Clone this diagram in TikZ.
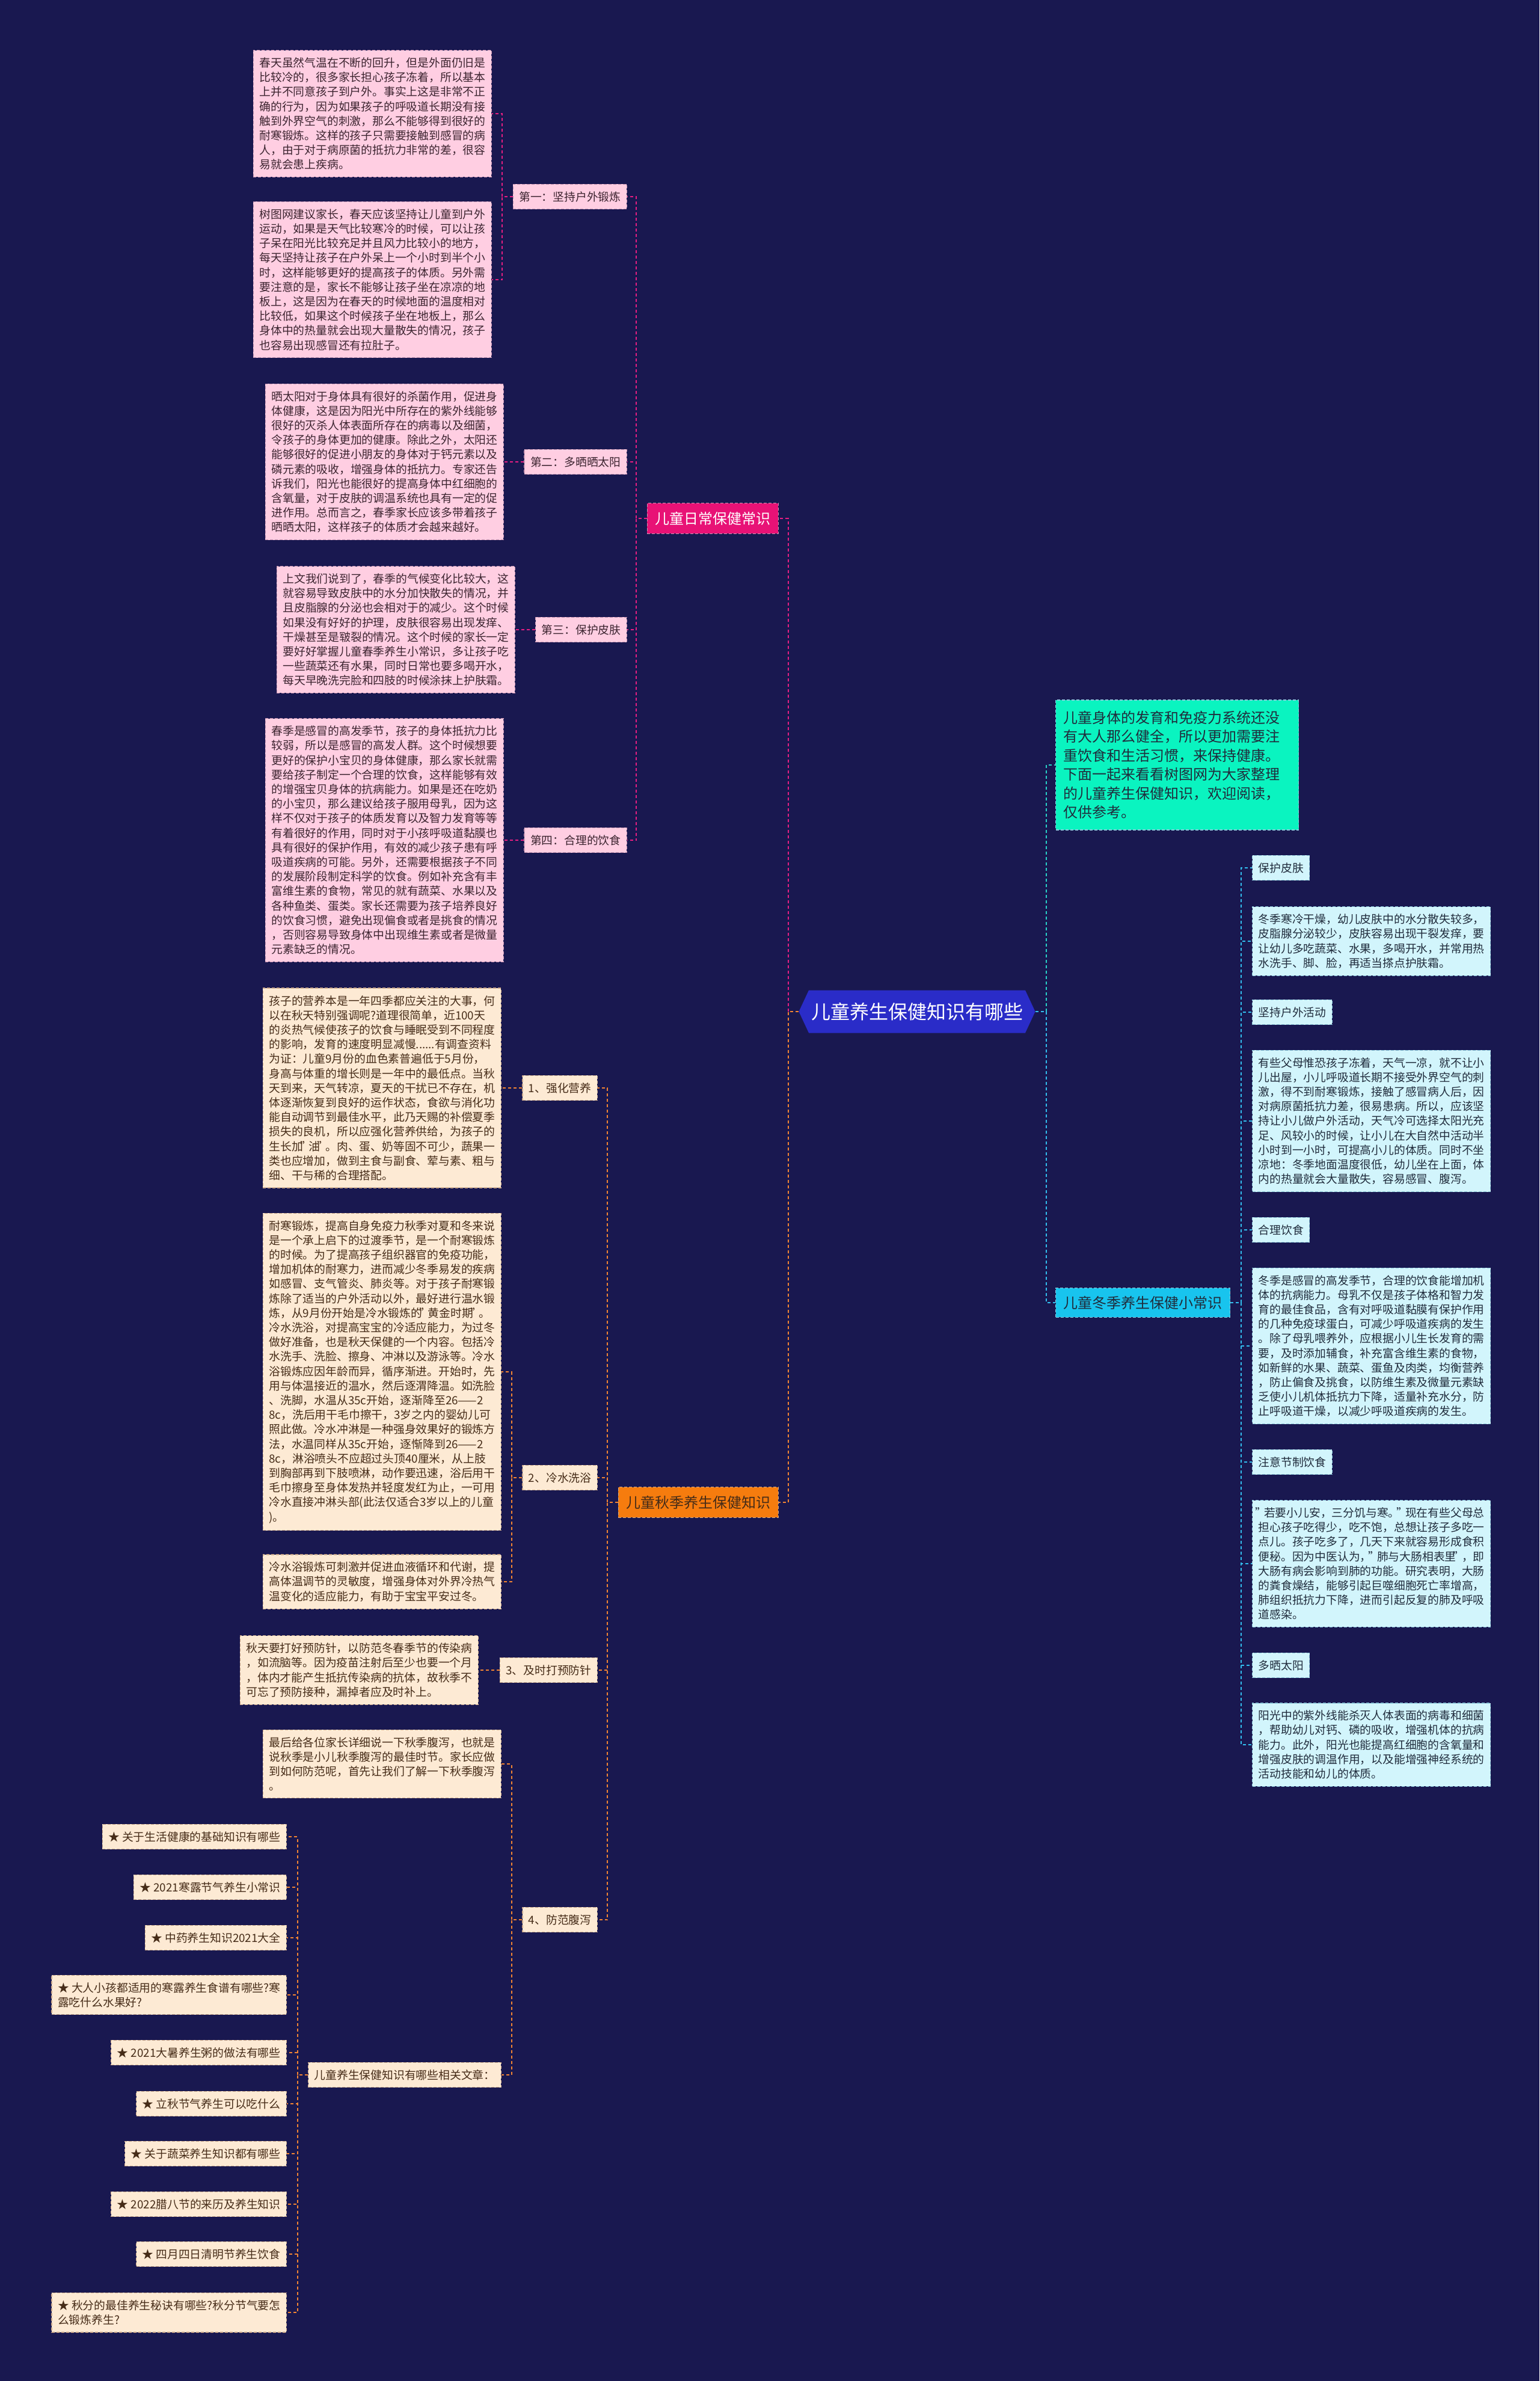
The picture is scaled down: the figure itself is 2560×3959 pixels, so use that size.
\documentclass[tikz,border=0pt]{standalone}
\usepackage{fontspec}
\setmainfont{Noto Sans CJK SC}[Ligatures=ResetAll]
\usepackage{tikz}
\usetikzlibrary{shapes.symbols}
\definecolor{bgnavy}    {RGB}{25,  24,  80}
\definecolor{rootblue}  {RGB}{42,  44, 200}
\definecolor{pinkmain}  {RGB}{232, 18, 118}
\definecolor{pinkfill}  {RGB}{255, 206, 226}
\definecolor{pinkedge}  {RGB}{200, 150, 180}
\definecolor{pinkink}   {RGB}{60,  36,  48}
\definecolor{orangemain}{RGB}{246, 124,  14}
\definecolor{peachfill} {RGB}{253, 234, 212}
\definecolor{peachedge} {RGB}{205, 170, 140}
\definecolor{peachink}  {RGB}{70,  44,  24}
\definecolor{cyanmain}  {RGB}{24, 196, 238}
\definecolor{cyanfill}  {RGB}{210, 245, 252}
\definecolor{cyanedge}  {RGB}{140, 200, 220}
\definecolor{cyanink}   {RGB}{32,  44,  60}
\definecolor{introgreen}{RGB}{10, 244, 192}
\definecolor{pinkwire}  {RGB}{230, 30, 130}
\definecolor{orangewire}{RGB}{242, 132,  50}
\definecolor{cyanwire}  {RGB}{50, 190, 238}
\definecolor{tealwire}  {RGB}{40, 210, 200}

% a straight double quote, half a character wide
\newcommand{\dq}{\makebox[0.5em][c]{"}}

\tikzset{
  boxbase/.style={align=left, inner xsep=10pt, inner ysep=12pt,
    font=\fontsize{18.8}{24.2}\selectfont, line width=1.2pt,
    dash pattern=on 5pt off 3pt},
  pinkleaf/.style={boxbase, fill=pinkfill, draw=pinkedge, text=pinkink},
  peachleaf/.style={boxbase, fill=peachfill, draw=peachedge, text=peachink},
  cyanleaf/.style={boxbase, fill=cyanfill, draw=cyanedge, text=cyanink},
  branchbox/.style={inner xsep=13pt, inner ysep=14pt, line width=1.2pt,
    dash pattern=on 5pt off 3pt, font=\fontsize{24}{31.5}\selectfont},
  rootnode/.style={signal, signal to=west and east, signal pointer angle=130,
    fill=rootblue, text=white, font=\fontsize{32}{38}\selectfont,
    minimum width=388pt, minimum height=71pt, inner xsep=4pt},
  wire/.style={line width=2pt, dash pattern=on 5pt off 4pt},
  pinkline/.style={wire, pinkwire},
  orangeline/.style={wire, orangewire},
  cyanline/.style={wire, cyanwire},
  lbranch/.style={to path={-- ++(-17.5,0) |- (\tikztotarget)}},
  rbranch/.style={to path={-- ++(18,0) |- (\tikztotarget)}}
}

\begin{document}
\begin{tikzpicture}[x=1pt, y=-1pt]
  \fill[bgnavy] (0,0) rectangle (2560,3959);

  % centre
  \node[rootnode] (root) at (1525,1682) {儿童养生保健知识有哪些};

  % spring branch (left, pink)
  \node[branchbox, fill=pinkmain, draw=pinkedge, text=white, anchor=east]
       (daily) at (1295,862) {儿童日常保健常识};
  \node[pinkleaf, anchor=east] (outdoor) at (1043,327) {第一：坚持户外锻炼};
  \node[pinkleaf, anchor=east] (outdoora) at (818,189)
       {春天虽然气温在不断的回升，但是外面仍旧是\\
        比较冷的，很多家长担心孩子冻着，所以基本\\
        上并不同意孩子到户外。事实上这是非常不正\\
        确的行为，因为如果孩子的呼吸道长期没有接\\
        触到外界空气的刺激，那么不能够得到很好的\\
        耐寒锻炼。这样的孩子只需要接触到感冒的病\\
        人，由于对于病原菌的抵抗力非常的差，很容\\
        易就会患上疾病。};
  \node[pinkleaf, anchor=east] (outdoorb) at (818,465)
       {树图网建议家长，春天应该坚持让儿童到户外\\
        运动，如果是天气比较寒冷的时候，可以让孩\\
        子呆在阳光比较充足并且风力比较小的地方，\\
        每天坚持让孩子在户外呆上一个小时到半个小\\
        时，这样能够更好的提高孩子的体质。另外需\\
        要注意的是，家长不能够让孩子坐在凉凉的地\\
        板上，这是因为在春天的时候地面的温度相对\\
        比较低，如果这个时候孩子坐在地板上，那么\\
        身体中的热量就会出现大量散失的情况，孩子\\
        也容易出现感冒还有拉肚子。};
  \node[pinkleaf, anchor=east] (sun) at (1043,768) {第二：多晒晒太阳};
  \node[pinkleaf, anchor=east] (suna) at (838,768)
       {晒太阳对于身体具有很好的杀菌作用，促进身\\
        体健康，这是因为阳光中所存在的紫外线能够\\
        很好的灭杀人体表面所存在的病毒以及细菌，\\
        令孩子的身体更加的健康。除此之外，太阳还\\
        能够很好的促进小朋友的身体对于钙元素以及\\
        磷元素的吸收，增强身体的抵抗力。专家还告\\
        诉我们，阳光也能很好的提高身体中红细胞的\\
        含氧量，对于皮肤的调温系统也具有一定的促\\
        进作用。总而言之，春季家长应该多带着孩子\\
        晒晒太阳，这样孩子的体质才会越来越好。};
  \node[pinkleaf, anchor=east] (skin) at (1043,1047) {第三：保护皮肤};
  \node[pinkleaf, anchor=east] (skina) at (857,1047)
       {上文我们说到了，春季的气候变化比较大，这\\
        就容易导致皮肤中的水分加快散失的情况，并\\
        且皮脂腺的分泌也会相对于的减少。这个时候\\
        如果没有好好的护理，皮肤很容易出现发痒、\\
        干燥甚至是皲裂的情况。这个时候的家长一定\\
        要好好掌握儿童春季养生小常识，多让孩子吃\\
        一些蔬菜还有水果，同时日常也要多喝开水，\\
        每天早晚洗完脸和四肢的时候涂抹上护肤霜。};
  \node[pinkleaf, anchor=east] (diet) at (1043,1397) {第四：合理的饮食};
  \node[pinkleaf, anchor=east] (dieta) at (838,1397)
       {春季是感冒的高发季节，孩子的身体抵抗力比\\
        较弱，所以是感冒的高发人群。这个时候想要\\
        更好的保护小宝贝的身体健康，那么家长就需\\
        要给孩子制定一个合理的饮食，这样能够有效\\
        的增强宝贝身体的抗病能力。如果是还在吃奶\\
        的小宝贝，那么建议给孩子服用母乳，因为这\\
        样不仅对于孩子的体质发育以及智力发育等等\\
        有着很好的作用，同时对于小孩呼吸道黏膜也\\
        具有很好的保护作用，有效的减少孩子患有呼\\
        吸道疾病的可能。另外，还需要根据孩子不同\\
        的发展阶段制定科学的饮食。例如补充含有丰\\
        富维生素的食物，常见的就有蔬菜、水果以及\\
        各种鱼类、蛋类。家长还需要为孩子培养良好\\
        的饮食习惯，避免出现偏食或者是挑食的情况\\
        ，否则容易导致身体中出现维生素或者是微量\\
        元素缺乏的情况。};

  % autumn branch (left, orange)
  \node[branchbox, fill=orangemain, draw=peachedge, text=peachink, anchor=east]
       (autumn) at (1295,2498) {儿童秋季养生保健知识};
  \node[peachleaf, anchor=east] (nutri) at (994,1809) {1、强化营养};
  \node[peachleaf, anchor=east] (nutria) at (834,1809)
       {孩子的营养本是一年四季都应关注的大事，何\\
        以在秋天特别强调呢?道理很简单，近100天\\
        的炎热气候使孩子的饮食与睡眠受到不同程度\\
        的影响，发育的速度明显减慢......有调查资料\\
        为证：儿童9月份的血色素普遍低于5月份，\\
        身高与体重的增长则是一年中的最低点。当秋\\
        天到来，天气转凉，夏天的干扰已不存在，机\\
        体逐渐恢复到良好的运作状态，食欲与消化功\\
        能自动调节到最佳水平，此乃天赐的补偿夏季\\
        损失的良机，所以应强化营养供给，为孩子的\\
        生长加\dq 油\dq 。肉、蛋、奶等固不可少，蔬果一\\
        类也应增加，做到主食与副食、荤与素、粗与\\
        细、干与稀的合理搭配。};
  \node[peachleaf, anchor=east] (bath) at (994,2457) {2、冷水洗浴};
  \node[peachleaf, anchor=east] (batha) at (834,2281)
       {耐寒锻炼，提高自身免疫力秋季对夏和冬来说\\
        是一个承上启下的过渡季节，是一个耐寒锻炼\\
        的时候。为了提高孩子组织器官的免疫功能，\\
        增加机体的耐寒力，进而减少冬季易发的疾病\\
        如感冒、支气管炎、肺炎等。对于孩子耐寒锻\\
        炼除了适当的户外活动以外，最好进行温水锻\\
        炼，从9月份开始是冷水锻炼的\dq 黄金时期\dq 。\\
        冷水洗浴，对提高宝宝的冷适应能力，为过冬\\
        做好准备，也是秋天保健的一个内容。包括冷\\
        水洗手、洗脸、擦身、冲淋以及游泳等。冷水\\
        浴锻炼应因年龄而异，循序渐进。开始时，先\\
        用与体温接近的温水，然后逐渭降温。如洗脸\\
        、洗脚，水温从35c开始，逐渐降至26——2\\
        8c，洗后用干毛巾擦干，3岁之内的婴幼儿可\\
        照此做。冷水冲淋是一种强身效果好的锻炼方\\
        法，水温同样从35c开始，逐惭降到26——2\\
        8c，淋浴喷头不应超过头顶40厘米，从上肢\\
        到胸部再到下肢喷淋，动作要迅速，浴后用干\\
        毛巾擦身至身体发热并轻度发红为止，一可用\\
        冷水直接冲淋头部(此法仅适合3岁以上的儿童\\
        )。};
  \node[peachleaf, anchor=east] (bathb) at (834,2630)
       {冷水浴锻炼可刺激并促进血液循环和代谢，提\\
        高体温调节的灵敏度，增强身体对外界冷热气\\
        温变化的适应能力，有助于宝宝平安过冬。};
  \node[peachleaf, anchor=east] (shot) at (994,2777) {3、及时打预防针};
  \node[peachleaf, anchor=east] (shota) at (796,2777)
       {秋天要打好预防针，以防范冬春季节的传染病\\
        ，如流脑等。因为疫苗注射后至少也要一个月\\
        ，体内才能产生抵抗传染病的抗体，故秋季不\\
        可忘了预防接种，漏掉者应及时补上。};
  \node[peachleaf, anchor=east] (gut) at (994,3192) {4、防范腹泻};
  \node[peachleaf, anchor=east] (guta) at (834,2933)
       {最后给各位家长详细说一下秋季腹泻，也就是\\
        说秋季是小儿秋季腹泻的最佳时节。家长应做\\
        到如何防范呢，首先让我们了解一下秋季腹泻\\
        。};
  \node[peachleaf, anchor=east] (links) at (834,3450) {儿童养生保健知识有哪些相关文章：};
  \node[peachleaf, anchor=east] (lk1) at (477,3054) {★ 关于生活健康的基础知识有哪些};
  \node[peachleaf, anchor=east] (lk2) at (477,3138) {★ 2021寒露节气养生小常识};
  \node[peachleaf, anchor=east] (lk3) at (477,3222) {★ 中药养生知识2021大全};
  \node[peachleaf, anchor=east] (lk4) at (477,3317)
       {★ 大人小孩都适用的寒露养生食谱有哪些?寒\\露吃什么水果好?};
  \node[peachleaf, anchor=east] (lk5) at (477,3413) {★ 2021大暑养生粥的做法有哪些};
  \node[peachleaf, anchor=east] (lk6) at (477,3498) {★ 立秋节气养生可以吃什么};
  \node[peachleaf, anchor=east] (lk7) at (477,3581) {★ 关于蔬菜养生知识都有哪些};
  \node[peachleaf, anchor=east] (lk8) at (477,3665) {★ 2022腊八节的来历及养生知识};
  \node[peachleaf, anchor=east] (lk9) at (477,3748) {★ 四月四日清明节养生饮食};
  \node[peachleaf, anchor=east] (lk10) at (477,3845)
       {★ 秋分的最佳养生秘诀有哪些?秋分节气要怎\\么锻炼养生?};

  % right side
  \node[branchbox, fill=introgreen, draw=cyanedge, text=cyanink, anchor=west,
        text width=378pt, align=left, inner ysep=18pt]
       (intro) at (1755,1272)
       {儿童身体的发育和免疫力系统还没\\
        有大人那么健全，所以更加需要注\\
        重饮食和生活习惯，来保持健康。\\
        下面一起来看看树图网为大家整理\\
        的儿童养生保健知识，欢迎阅读，\\
        仅供参考。};
  \node[branchbox, fill=cyanmain, draw=cyanedge, text=cyanink, anchor=west, inner ysep=13pt]
       (winter) at (1755,2166) {儿童冬季养生保健小常识};
  \node[cyanleaf, anchor=west] (wskin) at (2082,1443) {保护皮肤};
  \node[cyanleaf, anchor=west] (wskina) at (2082,1565)
       {冬季寒冷干燥，幼儿皮肤中的水分散失较多，\\
        皮脂腺分泌较少，皮肤容易出现干裂发痒，要\\
        让幼儿多吃蔬菜、水果，多喝开水，并常用热\\
        水洗手、脚、脸，再适当搽点护肤霜。};
  \node[cyanleaf, anchor=west] (wout) at (2082,1683) {坚持户外活动};
  \node[cyanleaf, anchor=west] (wouta) at (2082,1864)
       {有些父母惟恐孩子冻着，天气一凉，就不让小\\
        儿出屋，小儿呼吸道长期不接受外界空气的刺\\
        激，得不到耐寒锻炼，接触了感冒病人后，因\\
        对病原菌抵抗力差，很易患病。所以，应该坚\\
        持让小儿做户外活动，天气冷可选择太阳光充\\
        足、风较小的时候，让小儿在大自然中活动半\\
        小时到一小时，可提高小儿的体质。同时不坐\\
        凉地：冬季地面温度很低，幼儿坐在上面，体\\
        内的热量就会大量散失，容易感冒、腹泻。};
  \node[cyanleaf, anchor=west] (wfood) at (2082,2045) {合理饮食};
  \node[cyanleaf, anchor=west] (wfooda) at (2082,2238)
       {冬季是感冒的高发季节，合理的饮食能增加机\\
        体的抗病能力。母乳不仅是孩子体格和智力发\\
        育的最佳食品，含有对呼吸道黏膜有保护作用\\
        的几种免疫球蛋白，可减少呼吸道疾病的发生\\
        。除了母乳喂养外，应根据小儿生长发育的需\\
        要，及时添加辅食，补充富含维生素的食物，\\
        如新鲜的水果、蔬菜、蛋鱼及肉类，均衡营养\\
        ，防止偏食及挑食，以防维生素及微量元素缺\\
        乏使小儿机体抵抗力下降，适量补充水分，防\\
        止呼吸道干燥，以减少呼吸道疾病的发生。};
  \node[cyanleaf, anchor=west] (wlimit) at (2082,2431) {注意节制饮食};
  \node[cyanleaf, anchor=west] (wlimita) at (2082,2600)
       {\dq 若要小儿安，三分饥与寒。\dq 现在有些父母总\\
        担心孩子吃得少，吃不饱，总想让孩子多吃一\\
        点儿。孩子吃多了，几天下来就容易形成食积\\
        便秘。因为中医认为，\dq 肺与大肠相表里\dq ，即\\
        大肠有病会影响到肺的功能。研究表明，大肠\\
        的粪食燥结，能够引起巨噬细胞死亡率增高，\\
        肺组织抵抗力下降，进而引起反复的肺及呼吸\\
        道感染。};
  \node[cyanleaf, anchor=west] (wsun) at (2082,2769) {多晒太阳};
  \node[cyanleaf, anchor=west] (wsuna) at (2082,2901)
       {阳光中的紫外线能杀灭人体表面的病毒和细菌\\
        ，帮助幼儿对钙、磷的吸收，增强机体的抗病\\
        能力。此外，阳光也能提高红细胞的含氧量和\\
        增强皮肤的调温作用，以及能增强神经系统的\\
        活动技能和幼儿的体质。};

  % connectors
  \draw[pinkline] (root.west) to[lbranch] (daily.east);
  \draw[orangeline] (root.west) to[lbranch] (autumn.east);
  \draw[wire, tealwire] (root.east) to[rbranch] (intro.west);
  \draw[cyanline] (root.east) to[rbranch] (winter.west);

  \foreach \n in {outdoor, sun, skin, diet}
    \draw[pinkline] (daily.west) to[lbranch] (\n.east);
  \draw[pinkline] (outdoor.west) to[lbranch] (outdoora.east);
  \draw[pinkline] (outdoor.west) to[lbranch] (outdoorb.east);
  \draw[pinkline] (sun.west) to[lbranch] (suna.east);
  \draw[pinkline] (skin.west) to[lbranch] (skina.east);
  \draw[pinkline] (diet.west) to[lbranch] (dieta.east);

  \foreach \n in {nutri, bath, shot, gut}
    \draw[orangeline] (autumn.west) to[lbranch] (\n.east);
  \draw[orangeline] (nutri.west) to[lbranch] (nutria.east);
  \draw[orangeline] (bath.west) to[lbranch] (batha.east);
  \draw[orangeline] (bath.west) to[lbranch] (bathb.east);
  \draw[orangeline] (shot.west) to[lbranch] (shota.east);
  \draw[orangeline] (gut.west) to[lbranch] (guta.east);
  \draw[orangeline] (gut.west) to[lbranch] (links.east);
  \foreach \i in {1,...,10}
    \draw[orangeline] (links.west) to[lbranch] (lk\i.east);

  \foreach \n in {wskin, wskina, wout, wouta, wfood, wfooda, wlimit, wlimita, wsun, wsuna}
    \draw[cyanline] (winter.east) to[rbranch] (\n.west);
\end{tikzpicture}
\end{document}
